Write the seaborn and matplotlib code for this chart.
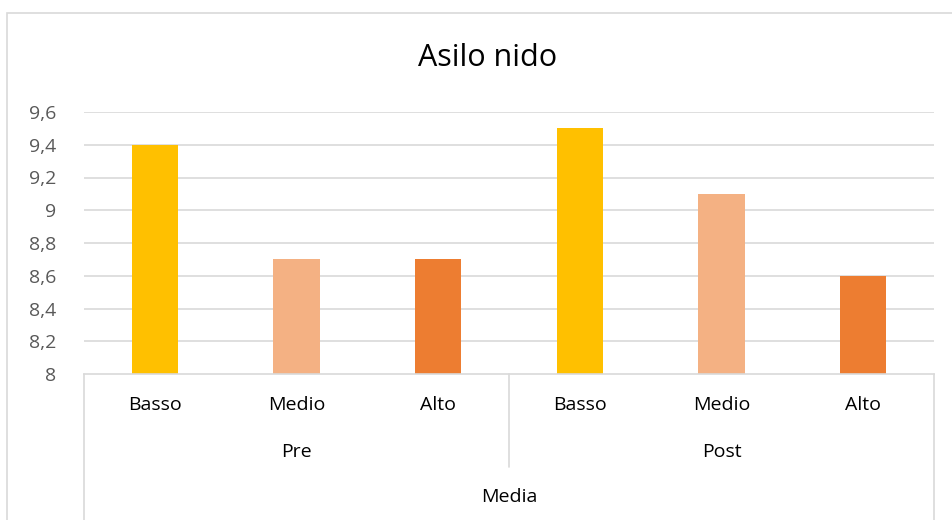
import matplotlib
matplotlib.use("Agg")
import matplotlib.pyplot as plt
import matplotlib.transforms as mtransforms
from matplotlib.patches import Rectangle
import seaborn as sns
import pandas as pd

# ---- data ----
periods = ["Pre", "Post"]
levels = ["Basso", "Medio", "Alto"]
pre_values = [9.4, 8.7, 8.7]
post_values = [9.5, 9.1, 8.6]
y_ticks = [8.0, 8.2, 8.4, 8.6, 8.8, 9.0, 9.2, 9.4, 9.6]
y_tick_labels = ["8", "8,2", "8,4", "8,6", "8,8", "9", "9,2", "9,4", "9,6"]
outer_label = "Media"
title = "Asilo nido"
colors = {"Basso": "#FFC000", "Medio": "#F4B183", "Alto": "#ED7D31"}

rows = []
for p, vals in zip(periods, [pre_values, post_values]):
    for lv, v in zip(levels, vals):
        rows.append({"pos": f"{p}-{lv}", "period": p, "level": lv, "value": v})
df = pd.DataFrame(rows)
order = list(df["pos"])

sns.set_theme(style="white")
plt.rcParams["font.family"] = ["Open Sans", "DejaVu Sans"]

W, H = 952, 520
fig = plt.figure(figsize=(W / 100, H / 100), dpi=100)
fig.patch.set_facecolor("white")
L, R, T, B = 84, 934, 112, 374
ax = fig.add_axes([L / W, 1 - B / H, (R - L) / W, (B - T) / H])

sns.barplot(data=df, x="pos", y="value", hue="level", order=order,
            hue_order=levels, palette=colors, dodge=False, width=0.325,
            legend=False, ax=ax, saturation=1, linewidth=0, edgecolor="none")

ax.set_ylim(8, 9.6)
ax.set_xlim(-0.5, len(order) - 0.5)
ax.set_yticks(y_ticks)
ax.set_yticklabels(y_tick_labels, fontsize=14, color="#595959")
ax.tick_params(axis="y", length=0, pad=20)
ax.set_xticks([])
ax.set_xlabel("")
ax.set_ylabel("")
for t in y_ticks[1:]:
    ax.axhline(t, color="#D9D9D9", lw=1.2, zorder=0)
for s in ["top", "right", "left"]:
    ax.spines[s].set_visible(False)
ax.spines["bottom"].set_color("#D9D9D9")
ax.spines["bottom"].set_linewidth(1.2)

axh = B - T
trans = mtransforms.blended_transform_factory(ax.transData, ax.transAxes)
line_kw = dict(color="#D9D9D9", lw=1.2, transform=trans, clip_on=False)
n = len(order)
ax.plot([-0.5, -0.5], [0, -(H - B + 5) / axh], **line_kw)
ax.plot([n - 0.5, n - 0.5], [0, -(H - B + 5) / axh], **line_kw)
ax.plot([2.5, 2.5], [0, -(467 - B) / axh], **line_kw)

txt_kw = dict(transform=trans, ha="center", va="center", fontsize=14, color="black")
for i, pos in enumerate(order):
    ax.text(i, -(405 - B) / axh, df.loc[i, "level"], **txt_kw)
for j, p in enumerate(periods):
    ax.text(1 + 3 * j, -(452 - B) / axh, p, **txt_kw)
ax.text((n - 1) / 2, -(497 - B) / axh, outer_label, **txt_kw)

fig.text(488 / W, 1 - 58 / H, title, ha="center", va="center",
         fontsize=22, color="black")

fig.patches.append(Rectangle((7 / W, -0.1), 1.1, 1 - 13 / H + 0.1,
                             transform=fig.transFigure, fill=False,
                             edgecolor="#D9D9D9", lw=1.2, figure=fig))

fig.savefig("out.png", dpi=100)
